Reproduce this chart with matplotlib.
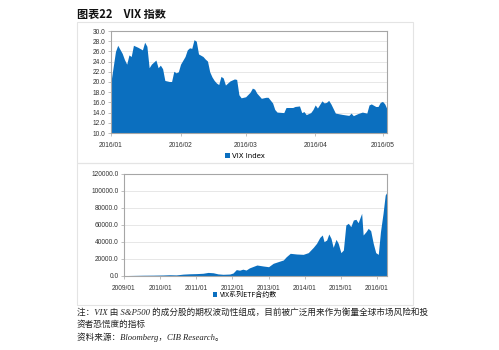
import matplotlib
matplotlib.use("Agg")
import matplotlib.pyplot as plt
import matplotlib.dates as mdates
from matplotlib.patches import Rectangle
import pandas as pd

# VIX index, Jan-May 2016
vix_dates = [
    "2016-01-01", "2016-01-03", "2016-01-04", "2016-01-06", "2016-01-07", "2016-01-08",
    "2016-01-09", "2016-01-10", "2016-01-11", "2016-01-13", "2016-01-15", "2016-01-16",
    "2016-01-17", "2016-01-18", "2016-01-19", "2016-01-21", "2016-01-22", "2016-01-23",
    "2016-01-24", "2016-01-25", "2016-01-27", "2016-01-28", "2016-01-29", "2016-01-30",
    "2016-01-31", "2016-02-01", "2016-02-03", "2016-02-04", "2016-02-05", "2016-02-06",
    "2016-02-07", "2016-02-08", "2016-02-09", "2016-02-11", "2016-02-12", "2016-02-13",
    "2016-02-14", "2016-02-15", "2016-02-16", "2016-02-17", "2016-02-18", "2016-02-19",
    "2016-02-20", "2016-02-21", "2016-02-23", "2016-02-25", "2016-02-26", "2016-02-27",
    "2016-02-28", "2016-03-01", "2016-03-03", "2016-03-04", "2016-03-05", "2016-03-06",
    "2016-03-08", "2016-03-10", "2016-03-11", "2016-03-13", "2016-03-14", "2016-03-15",
    "2016-03-18", "2016-03-19", "2016-03-22", "2016-03-23", "2016-03-25", "2016-03-26",
    "2016-03-27", "2016-03-28", "2016-03-30", "2016-03-31", "2016-04-01", "2016-04-02",
    "2016-04-04", "2016-04-05", "2016-04-06", "2016-04-07", "2016-04-08", "2016-04-10",
    "2016-04-13", "2016-04-16", "2016-04-17", "2016-04-18", "2016-04-20", "2016-04-22",
    "2016-04-24", "2016-04-25", "2016-04-26", "2016-04-28", "2016-04-29", "2016-04-30",
    "2016-05-01", "2016-05-02", "2016-05-03",
]
vix_values = [
    20.1, 26.0, 27.2, 25.6, 24.4, 23.5,
    25.3, 25.0, 27.2, 26.8, 26.3, 27.8,
    27.0, 22.8, 23.5, 24.3, 22.8, 23.3,
    22.6, 20.3, 20.1, 20.1, 22.1, 21.8,
    22.0, 23.5, 25.0, 26.3, 26.7, 26.6,
    28.3, 28.0, 25.5, 25.0, 24.5, 24.1,
    22.0, 21.0, 20.3, 19.8, 19.5, 21.1,
    20.8, 19.4, 20.2, 20.6, 20.5, 17.5,
    16.9, 17.1, 18.0, 18.8, 18.6, 17.8,
    16.8, 17.0, 17.0, 15.9, 14.6, 14.1,
    14.0, 15.0, 15.0, 15.2, 15.3, 14.0,
    14.2, 13.6, 14.0, 14.6, 15.5, 14.9,
    16.3, 15.9, 16.0, 16.4, 15.7, 13.9,
    13.65, 13.45, 13.9, 13.4, 13.8, 14.1,
    13.9, 15.5, 15.7, 15.2, 15.2, 16.0,
    16.2, 15.7, 14.7,
]

# VIX ETF contracts, 2009-2016
etf_dates = [
    "2009-01-02", "2009-04-05", "2009-07-12", "2009-10-20", "2010-01-30", "2010-04-08",
    "2010-06-13", "2010-08-22", "2010-10-27", "2011-01-02", "2011-03-10", "2011-05-01",
    "2011-06-21", "2011-08-08", "2011-09-28", "2011-12-06", "2012-01-08", "2012-02-10",
    "2012-03-14", "2012-04-16", "2012-05-19", "2012-06-21", "2012-09-05", "2012-11-10",
    "2013-01-01", "2013-02-17", "2013-04-28", "2013-05-30", "2013-06-28", "2013-08-08",
    "2013-10-12", "2013-12-17", "2014-02-06", "2014-03-29", "2014-05-01", "2014-06-03",
    "2014-06-28", "2014-07-16", "2014-08-11", "2014-09-02", "2014-09-24", "2014-10-16",
    "2014-11-14", "2014-12-06", "2015-01-02", "2015-01-27", "2015-02-21", "2015-03-18",
    "2015-04-12", "2015-05-08", "2015-06-03", "2015-06-25", "2015-07-31", "2015-08-15",
    "2015-09-13", "2015-10-05", "2015-10-30", "2015-11-25", "2015-12-20", "2016-01-15",
    "2016-02-06", "2016-03-03", "2016-03-25", "2016-04-08", "2016-04-12",
]
etf_values = [
    500, 700, 900, 1000, 1200, 1500,
    1300, 2200, 2600, 2800, 3200, 4200,
    3800, 2500, 2000, 2300, 3500, 7500,
    6800, 8000, 7000, 9500, 12900, 11700,
    10900, 14900, 17600, 18800, 22500, 26600,
    25800, 25400, 27400, 33600, 38300, 45300,
    48100, 40300, 42200, 49300, 44200, 33600,
    43000, 38300, 27400, 30500, 59800, 61800,
    57900, 65700, 66500, 62500, 73500, 48100,
    52000, 55900, 53200, 38300, 27400, 25400,
    52000, 73500, 95000, 97700, 85000,
]

title = "图表22　VIX 指数"
note_lines = [
    "注：VIX 由 S&P500 的成分股的期权波动性组成，目前被广泛用来作为衡量全球市场风险和投",
    "资者恐慌度的指标",
    "资料来源：Bloomberg，CIB Research。",
]

BLUE = "#0B6FBF"
CJK = ["Noto Sans CJK SC", "DejaVu Sans"]
TICK_FONT = "Liberation Sans"

W, H = 499, 350
fig = plt.figure(figsize=(W / 100, H / 100), dpi=100)


def fx(px):
    return px / W


def fy(py):
    return 1 - py / H


def style_axes(ax):
    for side in ["top", "right", "left", "bottom"]:
        ax.spines[side].set_color("#A6A6A6")
        ax.spines[side].set_linewidth(0.8)
    ax.yaxis.grid(True, color="#E3E3E3", linewidth=0.6)
    ax.set_axisbelow(True)
    ax.tick_params(axis="both", labelsize=4.8, colors="#A6A6A6", labelcolor="#333333",
                   length=2, width=0.5, pad=2)
    ax.tick_params(axis="x", pad=4.5)
    for lab in ax.get_xticklabels() + ax.get_yticklabels():
        lab.set_fontfamily(TICK_FONT)


# light frames around each panel
for y0, y1 in [(21.7, 163.5), (163.5, 305)]:
    fig.add_artist(Rectangle((fx(77), fy(y1)), fx(413) - fx(77), fy(y0) - fy(y1),
                             transform=fig.transFigure, fill=False,
                             edgecolor="#E4E4E4", linewidth=0.8))

# top: VIX index
ax1 = fig.add_axes([fx(111), fy(133), fx(387) - fx(111), fy(31) - fy(133)])
d1 = pd.to_datetime(vix_dates)
ax1.fill_between(d1, 10, vix_values, color=BLUE, linewidth=0, label="VIX Index")
ax1.set_ylim(10, 30)
ax1.set_yticks([10 + 2 * i for i in range(11)])
ax1.yaxis.set_major_formatter(plt.FormatStrFormatter("%.1f"))
ax1.set_xlim(pd.Timestamp("2016-01-01"), pd.Timestamp("2016-05-03"))
ax1.xaxis.set_major_locator(mdates.MonthLocator())
ax1.xaxis.set_major_formatter(mdates.DateFormatter("%Y/%m"))
style_axes(ax1)
ax1.legend(loc="center", bbox_to_anchor=(fx(245), fy(156)), bbox_transform=fig.transFigure,
           frameon=False, handlelength=0.6, handleheight=0.6,
           handletextpad=0.3, borderpad=0, prop={"family": "DejaVu Sans", "size": 5})

# bottom: VIX ETF contracts
ax2 = fig.add_axes([fx(124), fy(276), fx(387) - fx(124), fy(173.7) - fy(276)])
d2 = pd.to_datetime(etf_dates)
ax2.fill_between(d2, 0, etf_values, color=BLUE, linewidth=0, label="VIX系列ETF合约数")
ax2.set_ylim(0, 120000)
ax2.set_yticks([20000 * i for i in range(7)])
ax2.yaxis.set_major_formatter(plt.FormatStrFormatter("%.1f"))
ax2.set_xlim(pd.Timestamp("2009-01-01"), pd.Timestamp("2016-04-12"))
ax2.xaxis.set_major_locator(mdates.YearLocator())
ax2.xaxis.set_major_formatter(mdates.DateFormatter("%Y/%m"))
style_axes(ax2)
ax2.legend(loc="center", bbox_to_anchor=(fx(245), fy(295)), bbox_transform=fig.transFigure,
           frameon=False, handlelength=0.6, handleheight=0.6,
           handletextpad=0.3, borderpad=0, prop={"family": CJK, "size": 5})

fig.text(fx(77), fy(14), title, fontsize=8, fontweight="bold", family=CJK,
         va="center", ha="left", color="#111111")

for text, py in zip(note_lines, [313, 325, 337]):
    fig.text(fx(77), fy(py), text, fontsize=6.2, style="italic",
             family=["Liberation Serif", "Noto Sans CJK SC"], va="center", ha="left",
             color="#222222")

fig.savefig("out.png", dpi=100)
